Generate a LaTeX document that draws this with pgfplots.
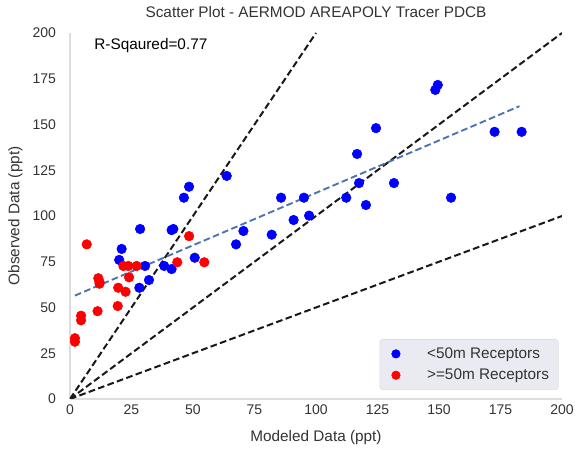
\documentclass[border=0pt]{standalone}
\usepackage{pgfplots}
\pgfplotsset{compat=1.18}
\usepackage{fontspec}
\setmainfont{Liberation Sans}
\definecolor{txt}{HTML}{333333}
\definecolor{spine}{HTML}{DDDDDD}
\definecolor{regc}{HTML}{4C72B0}
\definecolor{legfill}{HTML}{EAEAF2}
\begin{document}
\begin{tikzpicture}
\useasboundingbox (-52.5pt,-40.5pt) rectangle (378.75pt,299.25pt);
\begin{axis}[
  name=ax,
  at={(0,0)}, anchor=south west,
  scale only axis,
  width=369pt, height=274.5pt,
  xmin=0, xmax=200, ymin=0, ymax=200,
  xtick={0,25,...,200}, ytick={0,25,...,200},
  axis x line*=bottom, axis y line*=left,
  axis line style={spine, line width=0.8pt, -},
  major tick length=0pt,
  tick label style={font=\fontsize{10.5}{12}\selectfont, text=txt},
  yticklabel style={xshift=-7pt},
  xticklabel style={yshift=-1pt},
  /pgf/number format/assume math mode=true,
  xlabel={Modeled Data (ppt)}, ylabel={Observed Data (ppt)},
  label style={font=\fontsize{11.5}{13}\selectfont, text=txt},
  xlabel style={at={(axis description cs:0.5,-0.104)}, anchor=center},
  ylabel style={at={(axis description cs:-0.111,0.5)}, anchor=center},
  clip=true,
  legend style={at={(0.993,0.025)}, anchor=south east, fill=legfill, draw=spine, rounded corners=2pt,
    font=\fontsize{11.5}{13}\selectfont, text=txt, row sep=2.5pt, inner xsep=5pt, inner ysep=4pt},
  legend cell align=left,
  legend image code/.code={\path[draw=none, fill=none] (0,0) -- (1.0cm,0); \draw[#1] (0.25cm,0cm) circle (3.2pt);},
]
\addplot[only marks, mark=*, mark size=3.6pt, color=blue, fill=blue] coordinates {
(63.7,121.9) (48.4,116) (46.3,110) (28.5,92.9) (41.3,92.3) (42,92.9)
(70.5,91.8) (67.5,84.5) (21,82) (20,76) (30.5,72.7) (38.3,72.7) (41.3,71)
(50.7,77.2) (32.1,65) (28.2,60.8)
(149.5,171.6) (148.5,168.9) (124.4,148) (116.7,133.9) (172.6,146) (183.6,146)
(85.8,110) (95.1,110) (112.3,110) (154.9,110) (117.5,118) (131.7,118)
(120.3,106) (90.9,97.8) (97.2,100.2) (82,89.8)
};
\addlegendentry{<50m Receptors}
\addplot[only marks, mark=*, mark size=3.6pt, color=red, fill=red] coordinates {
(6.8,84.5) (2,33.2) (2,31.3) (4.5,45.5) (4.5,43) (11.2,48)
(11.5,66) (12,64) (12,63) (19.4,50.8) (19.6,60.8) (22.6,58.6)
(21.7,72.7) (23.7,72.7) (27.1,72.7) (24,66.5) (43.6,74.7) (48.4,89) (54.6,74.7)
};
\addlegendentry{>=50m Receptors}
\addplot[black!90, line width=1.5pt, dash pattern=on 5pt off 2.5pt, forget plot] coordinates {(0,0) (100,200)};
\addplot[black!90, line width=1.5pt, dash pattern=on 5pt off 2.5pt, forget plot] coordinates {(0,0) (200,200)};
\addplot[black!90, line width=1.5pt, dash pattern=on 5pt off 2.5pt, forget plot] coordinates {(0,0) (200,100)};
\addplot[regc, line width=1.4pt, dash pattern=on 5pt off 2.5pt, forget plot] coordinates {(2,56.5) (182.7,160)};
\node[anchor=west, font=\fontsize{11.5}{13}\selectfont, text=black] at (axis cs:8,193) {R-Sqaured=0.77};
\end{axis}
\node[font=\fontsize{11.5}{13}\selectfont, text=txt, anchor=center, yshift=15.9pt] at (ax.north) {Scatter Plot - AERMOD AREAPOLY Tracer PDCB};
\end{tikzpicture}
\end{document}
